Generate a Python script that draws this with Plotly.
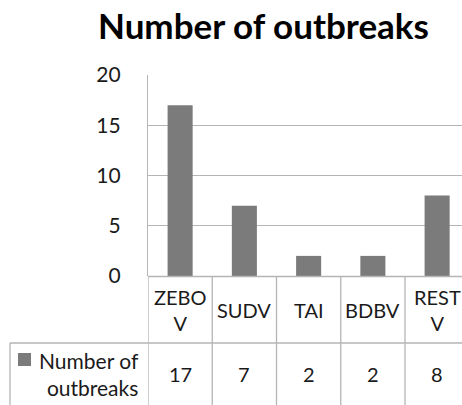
import plotly.graph_objects as go

categories = ["ZEBOV", "SUDV", "TAI", "BDBV", "RESTV"]
category_labels = ["ZEBO<br>V", "SUDV", "TAI", "BDBV", "REST<br>V"]
outbreaks = [17, 7, 2, 2, 8]
series_name = "Number of outbreaks"
title_text = "Number of outbreaks"
y_ticks = [0, 5, 10, 15, 20]

W, H = 462, 405
L, T, B = 148, 75, 276  # plot area px
col_w = 64.25
x_end = -0.5 + (W - L) / col_w

def py(ypx):
    return (B - ypx) / (B - T)

def px(xpx):
    return (xpx - L) / (W - L)

FONT = "Lato"
GRID = "#b5b5b5"
BAR = "#7b7b7b"
TXT = "#1a1a1a"

fig = go.Figure()
fig.add_trace(go.Bar(x=list(range(len(categories))), y=outbreaks, name=series_name,
                     marker=dict(color=BAR, line=dict(width=0)), width=0.39,
                     hoverinfo="y"))

shapes = []
shapes.append(dict(type="line", xref="paper", yref="paper", x0=px(148), x1=1, y0=py(276.5), y1=py(276.5),
                   line=dict(color=GRID, width=1.3)))
shapes.append(dict(type="line", xref="paper", yref="paper", x0=px(10), x1=1, y0=py(343), y1=py(343),
                   line=dict(color=GRID, width=1.3)))
for i in range(len(categories)):
    shapes.append(dict(type="line", xref="x", yref="paper", x0=i - 0.5, x1=i - 0.5,
                       y0=py(276), y1=py(410), line=dict(color=GRID, width=1.3)))
shapes.append(dict(type="line", xref="paper", yref="paper", x0=px(10), x1=px(10),
                   y0=py(343), y1=py(410), line=dict(color=GRID, width=1.3)))
shapes.append(dict(type="rect", xref="paper", yref="paper", x0=px(18), x1=px(31),
                   y0=py(353), y1=py(366), fillcolor=BAR, line=dict(width=0)))

annotations = []
for i, (lab, v) in enumerate(zip(category_labels, outbreaks)):
    annotations.append(dict(x=i, xref="x", y=py(310), yref="paper", text=lab, showarrow=False,
                            font=dict(family=FONT, size=20, color=TXT), yanchor="middle"))
    annotations.append(dict(x=i, xref="x", y=py(374), yref="paper", text=str(v), showarrow=False,
                            font=dict(family=FONT, size=20, color=TXT), yanchor="middle"))
annotations.append(dict(x=px(141), xref="paper", y=py(374), yref="paper",
                        text="Number of<br>outbreaks", showarrow=False, align="right",
                        xanchor="right", yanchor="middle",
                        font=dict(family=FONT, size=21, color=TXT)))
annotations.append(dict(x=px(263), xref="paper", y=py(25), yref="paper", text="<b>" + title_text + "</b>",
                        showarrow=False, xanchor="center", yanchor="middle",
                        font=dict(family=FONT, size=35, color="#000000")))

fig.update_layout(
    width=W, height=H,
    margin=dict(l=L, r=0, t=T, b=H - B, pad=0),
    paper_bgcolor="white", plot_bgcolor="white",
    showlegend=False,
    xaxis=dict(range=[-0.5, x_end], showticklabels=False, showgrid=False, zeroline=False,
               showline=False, ticks=""),
    yaxis=dict(range=[0, 20], tickvals=y_ticks, showgrid=True, gridcolor=GRID, gridwidth=1.3,
               zeroline=False, showline=True, linecolor=GRID, linewidth=1.3,
               ticks="", ticklabelstandoff=22,
               tickfont=dict(family=FONT, size=21, color=TXT)),
    shapes=shapes, annotations=annotations,
)

fig.write_html("out.html", config={"displayModeBar": False},
               post_script="document.body.style.margin='0';document.body.style.overflow='hidden';")
